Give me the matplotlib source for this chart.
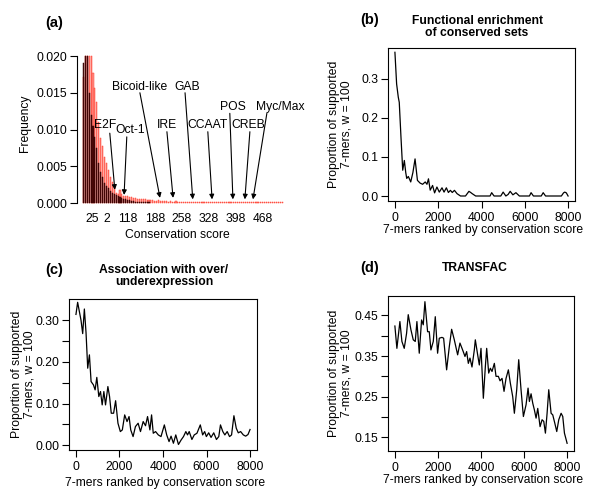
import matplotlib
matplotlib.use("Agg")
import matplotlib.pyplot as plt
import numpy as np

plt.rcParams['font.family'] = ['Liberation Sans', 'DejaVu Sans']

# ---------------- data ----------------
# Panel (a): histogram of conservation scores (bin width 5)
bin_width = 5
red_freq = [0.0172, 0.0200, 0.0200, 0.0200, 0.0200, 0.0177, 0.0157, 0.0137, 0.0110, 0.0088,
            0.0078, 0.0063, 0.0054, 0.0045, 0.0036, 0.0029, 0.0022, 0.0014, 0.0012, 0.0018,
            0.0012, 0.0010, 0.0010, 0.0009, 0.0008, 0.0008, 0.0007, 0.0007, 0.0006, 0.0006,
            0.0005, 0.0005, 0.0005, 0.0004, 0.0004, 0.0004, 0.0004, 0.0003, 0.0003, 0.0004,
            0.0003, 0.0003, 0.0003, 0.0003, 0.0002, 0.0003, 0.0002, 0.0002, 0.0003, 0.0002,
            0.0002, 0.0002, 0.0002, 0.0002, 0.0002, 0.0001, 0.0002, 0.0002, 0.0001, 0.0002,
            0.0001, 0.0001, 0.0002, 0.0001, 0.0001, 0.0001, 0.0002, 0.0001, 0.0001, 0.0001,
            0.0001, 0.0001, 0.0002, 0.0001, 0.0001, 0.0001, 0.0001, 0.0001, 0.0002, 0.0001,
            0.0001, 0.0001, 0.0001, 0.0001, 0.0001, 0.0001, 0.0001, 0.0001, 0.0001, 0.0001,
            0.0001, 0.0001, 0.0001, 0.0001, 0.0001, 0.0001, 0.0001, 0.0001, 0.0001, 0.0001,
            0.0001, 0.0001, 0.0001, 0.0001]
dark_freq = [0.0190, 0.0200, 0.0200, 0.0150, 0.0120, 0.0105, 0.0090, 0.0075, 0.0054, 0.0042,
             0.0035, 0.0027, 0.0023, 0.0020, 0.0016, 0.0014, 0.0012, 0.0011, 0.0010, 0.0008,
             0.0007, 0.0006, 0.0005, 0.0004, 0.0004, 0.0003, 0.0003, 0.0002, 0.0002, 0.0002,
             0.0001, 0.0001, 0.0001, 0.0001, 0.0001]
spike_score = 17.5
spike_freq = 0.0235
xtick_pos = [25, 62, 118, 188, 258, 328, 398, 468]
xtick_labels = ['25', '2', '118', '188', '258', '328', '398', '468']

motifs = ['E2F', 'Oct-1', 'Bicoid-like', 'IRE', 'GAB', 'CCAAT', 'POS', 'CREB', 'Myc/Max']
motif_scores = [84, 108, 201, 235, 286, 336, 390, 421, 442]
motif_tip_freq = [0.0018, 0.0011, 0.0007, 0.0007, 0.0005, 0.0005, 0.0005, 0.0005, 0.0005]

# Panel (b): functional enrichment
b_x = [0, 78, 155, 200, 280, 360, 435, 500, 545, 620, 730, 830, 930, 1040, 1165, 1280,
       1400, 1480, 1550, 1630, 1740, 1833, 1940, 2050, 2175, 2270, 2377, 2470, 2563, 2650,
       2750, 2870, 3030, 3260, 3340, 3420, 3500, 3570, 3730, 4395, 4470, 4580, 4890, 5000,
       5125, 5230, 5325, 5450, 5590, 5750, 6215, 6290, 6400, 6760, 6850, 6960, 7690, 7790,
       7845, 7920, 8000]
b_y = [0.368, 0.287, 0.253, 0.240, 0.150, 0.066, 0.091, 0.060, 0.045, 0.050, 0.036, 0.060,
       0.095, 0.040, 0.033, 0.030, 0.036, 0.030, 0.044, 0.015, 0.027, 0.008, 0.023, 0.010,
       0.021, 0.010, 0.021, 0.009, 0.0145, 0.009, 0.0145, 0.006, 0.0, 0.0, 0.006, 0.012,
       0.009, 0.006, 0.0, 0.0, 0.0085, 0.0, 0.0, 0.010, 0.0, 0.004, 0.012, 0.003, 0.0085,
       0.0, 0.0, 0.0085, 0.0, 0.0, 0.0085, 0.0, 0.0, 0.008, 0.010, 0.008, 0.0]

# Panel (c): association with over/underexpression
c_x = [0, 77, 232, 309, 386, 463, 540, 618, 695, 803, 880, 958, 1050, 1128, 1205, 1282,
       1359, 1467, 1544, 1622, 1730, 1822, 1930, 2039, 2131, 2239, 2347, 2440, 2517, 2625,
       2733, 2857, 2965, 3089, 3197, 3290, 3398, 3475, 3552, 3660, 3784, 3908, 4062, 4170,
       4278, 4371, 4479, 4587, 4710, 4834, 4942, 5050, 5127, 5204, 5328, 5436, 5560, 5714,
       5822, 5915, 5992, 6100, 6208, 6332, 6456, 6564, 6641, 6749, 6842, 6950, 7058, 7151,
       7259, 7367, 7460, 7568, 7691, 7799, 7907, 8000]
c_y = [0.314, 0.343, 0.300, 0.268, 0.327, 0.270, 0.185, 0.217, 0.153, 0.145, 0.133, 0.163,
       0.117, 0.129, 0.097, 0.129, 0.097, 0.141, 0.117, 0.077, 0.077, 0.107, 0.053, 0.033,
       0.037, 0.073, 0.057, 0.069, 0.037, 0.021, 0.045, 0.053, 0.033, 0.057, 0.047, 0.069,
       0.037, 0.073, 0.029, 0.033, 0.025, 0.021, 0.049, 0.025, 0.009, 0.022, 0.005, 0.025,
       0.002, 0.013, 0.021, 0.033, 0.025, 0.033, 0.014, 0.025, 0.029, 0.049, 0.025, 0.033,
       0.021, 0.030, 0.019, 0.030, 0.014, 0.021, 0.049, 0.033, 0.025, 0.033, 0.021, 0.025,
       0.071, 0.041, 0.030, 0.033, 0.025, 0.022, 0.026, 0.038]

# Panel (d): TRANSFAC
d_x = [0, 93, 233, 326, 434, 543, 620, 744, 853, 946, 1023, 1132, 1240, 1318, 1395, 1519,
       1597, 1674, 1783, 1876, 1984, 2062, 2186, 2264, 2403, 2527, 2636, 2760, 2915, 3023,
       3147, 3256, 3333, 3411, 3488, 3581, 3690, 3736, 3845, 3922, 4000, 4109, 4202, 4264,
       4357, 4434, 4512, 4620, 4698, 4806, 4884, 4977, 5070, 5163, 5271, 5364, 5473, 5550,
       5659, 5752, 5860, 5969, 6093, 6186, 6248, 6326, 6403, 6481, 6558, 6636, 6744, 6837,
       6915, 6992, 7070, 7147, 7256, 7333, 7426, 7519, 7612, 7721, 7798, 7876, 8000]
d_y = [0.424, 0.369, 0.435, 0.386, 0.369, 0.406, 0.452, 0.415, 0.390, 0.386, 0.435, 0.357,
       0.439, 0.427, 0.484, 0.410, 0.410, 0.365, 0.386, 0.447, 0.357, 0.394, 0.396, 0.394,
       0.316, 0.373, 0.416, 0.390, 0.353, 0.382, 0.365, 0.349, 0.361, 0.332, 0.345, 0.323,
       0.365, 0.390, 0.353, 0.328, 0.369, 0.246, 0.324, 0.369, 0.308, 0.320, 0.312, 0.332,
       0.300, 0.300, 0.289, 0.295, 0.263, 0.295, 0.316, 0.283, 0.250, 0.209, 0.267, 0.341,
       0.267, 0.201, 0.230, 0.271, 0.238, 0.257, 0.234, 0.217, 0.197, 0.221, 0.176, 0.193,
       0.189, 0.160, 0.209, 0.267, 0.209, 0.205, 0.185, 0.164, 0.193, 0.209, 0.201, 0.160,
       0.135]

# ---------------- layout helpers ----------------
W, H = 600, 503
fig = plt.figure(figsize=(W / 100, H / 100), dpi=100)
FS = 8.7


def ax_px(l, t, r, b):
    return fig.add_axes([l / W, 1 - b / H, (r - l) / W, (b - t) / H])


def ftext(x, y, s, **kw):
    return fig.text(x / W, 1 - y / H, s, **kw)


# ---------------- panel (a) ----------------
axA = ax_px(77, 30, 285, 210)
red_x = np.arange(len(red_freq)) * bin_width + bin_width / 2
dark_x = np.arange(len(dark_freq)) * bin_width + bin_width / 2
axA.bar(red_x, red_freq, width=bin_width * 0.55, color='#ff9088', edgecolor='#ff3a2a',
        linewidth=0.35)
axA.bar(dark_x, dark_freq, width=bin_width * 0.55, color='#4a0606', edgecolor='#300000',
        linewidth=0.35, alpha=0.95)
axA.bar([spike_score], [spike_freq], width=1.2, color='#555555', linewidth=0)
axA.set_xlim(-14, 525)
axA.set_ylim(-0.00095, 0.02354)
for s in ['top', 'right', 'bottom']:
    axA.spines[s].set_visible(False)
axA.spines['left'].set_bounds(0, 0.02)
axA.spines['left'].set_linewidth(0.8)
axA.set_yticks([0, 0.005, 0.010, 0.015, 0.020])
axA.set_yticklabels(['0.000', '0.005', '0.010', '0.015', '0.020'], fontsize=FS)
axA.tick_params(axis='y', length=5, width=0.8, pad=2)
axA.set_xticks(xtick_pos)
axA.set_xticklabels(xtick_labels, fontsize=FS)
axA.tick_params(axis='x', length=0, pad=2.5)

label_pos = [(58, 0.0106), (123, 0.0099), (149, 0.0158), (220, 0.0106), (271, 0.0158),
             (324, 0.0106), (390, 0.0131), (431, 0.0106), (512, 0.0131)]
arrow_start = [(71, 0.0095), (115, 0.0090), (149, 0.0150), (219, 0.0097), (266, 0.0150),
               (325, 0.0097), (382, 0.0122), (434, 0.0097), (478, 0.0122)]
for name, sc, tip, lp, st in zip(motifs, motif_scores, motif_tip_freq, label_pos, arrow_start):
    axA.text(lp[0], lp[1], name, ha='center', va='center', fontsize=FS, clip_on=False,
             zorder=5)
    axA.annotate('', xy=(sc, tip), xytext=st,
                 arrowprops=dict(arrowstyle='-|>', color='black', lw=0.8,
                                 mutation_scale=7, shrinkA=0, shrinkB=0),
                 annotation_clip=False)

ftext(25, 123, 'Frequency', rotation=90, ha='center', va='center', fontsize=FS)
ftext(177, 235, 'Conservation score', ha='center', va='center', fontsize=FS)
ftext(54, 23, '(a)', ha='center', va='center', fontsize=10.5, fontweight='bold')


# ---------------- panels (b)-(d) ----------------
def line_panel(box, x, y, ylim, yticks, ylabels, ylab_x, xlab_y, title, title_xy, tag_xy, tag):
    ax = ax_px(*box)
    ax.plot(x, y, color='black', lw=0.9)
    ax.set_xlim(-320, 8320)
    ax.set_ylim(*ylim)
    ax.set_xticks([0, 2000, 4000, 6000, 8000])
    ax.set_xticklabels(['0', '2000', '4000', '6000', '8000'], fontsize=FS)
    ax.set_yticks(yticks)
    ax.set_yticklabels(ylabels, fontsize=FS)
    ax.tick_params(length=5, width=0.8, pad=2)
    ax.tick_params(axis='x', pad=3)
    for s in ax.spines.values():
        s.set_linewidth(0.8)
    l, t, r, b = box
    cx = (l + r) / 2
    cy = (t + b) / 2
    ftext(ylab_x, cy, 'Proportion of supported\n7-mers, w = 100', rotation=90,
          ha='center', va='center', fontsize=FS, linespacing=1.1)
    ftext(cx + 2, xlab_y, '7-mers ranked by conservation score', ha='center', va='center',
          fontsize=FS)
    ftext(title_xy[0], title_xy[1], title, ha='center', va='center', fontsize=FS,
          fontweight='bold', linespacing=1.05)
    ftext(tag_xy[0], tag_xy[1], tag, ha='center', va='center', fontsize=10.5,
          fontweight='bold')
    return ax


line_panel((388, 48, 575, 201), b_x, b_y, (-0.0128, 0.379), [0, 0.1, 0.2, 0.3],
           ['0.0', '0.1', '0.2', '0.3'], 340, 230,
           'Functional enrichment\nof conserved sets', (477, 27), (370, 20), '(b)')

c_ticks = [0, 0.05, 0.10, 0.15, 0.20, 0.25, 0.30]
line_panel((69, 299, 257, 450), c_x, c_y, (-0.0112, 0.351), c_ticks,
           ['0.00', '', '0.10', '', '0.20', '', '0.30'], 23, 483,
           'Association with over/\nunderexpression', (164, 276), (54, 270), '(c)')

d_ticks = [0.15, 0.20, 0.25, 0.30, 0.35, 0.40, 0.45]
line_panel((388, 296, 574, 451), d_x, d_y, (0.116, 0.498), d_ticks,
           ['0.15', '', '0.25', '', '0.35', '', '0.45'], 340, 480,
           'TRANSFAC', (475, 268), (370, 268), '(d)')

fig.savefig('out.png', dpi=100)
